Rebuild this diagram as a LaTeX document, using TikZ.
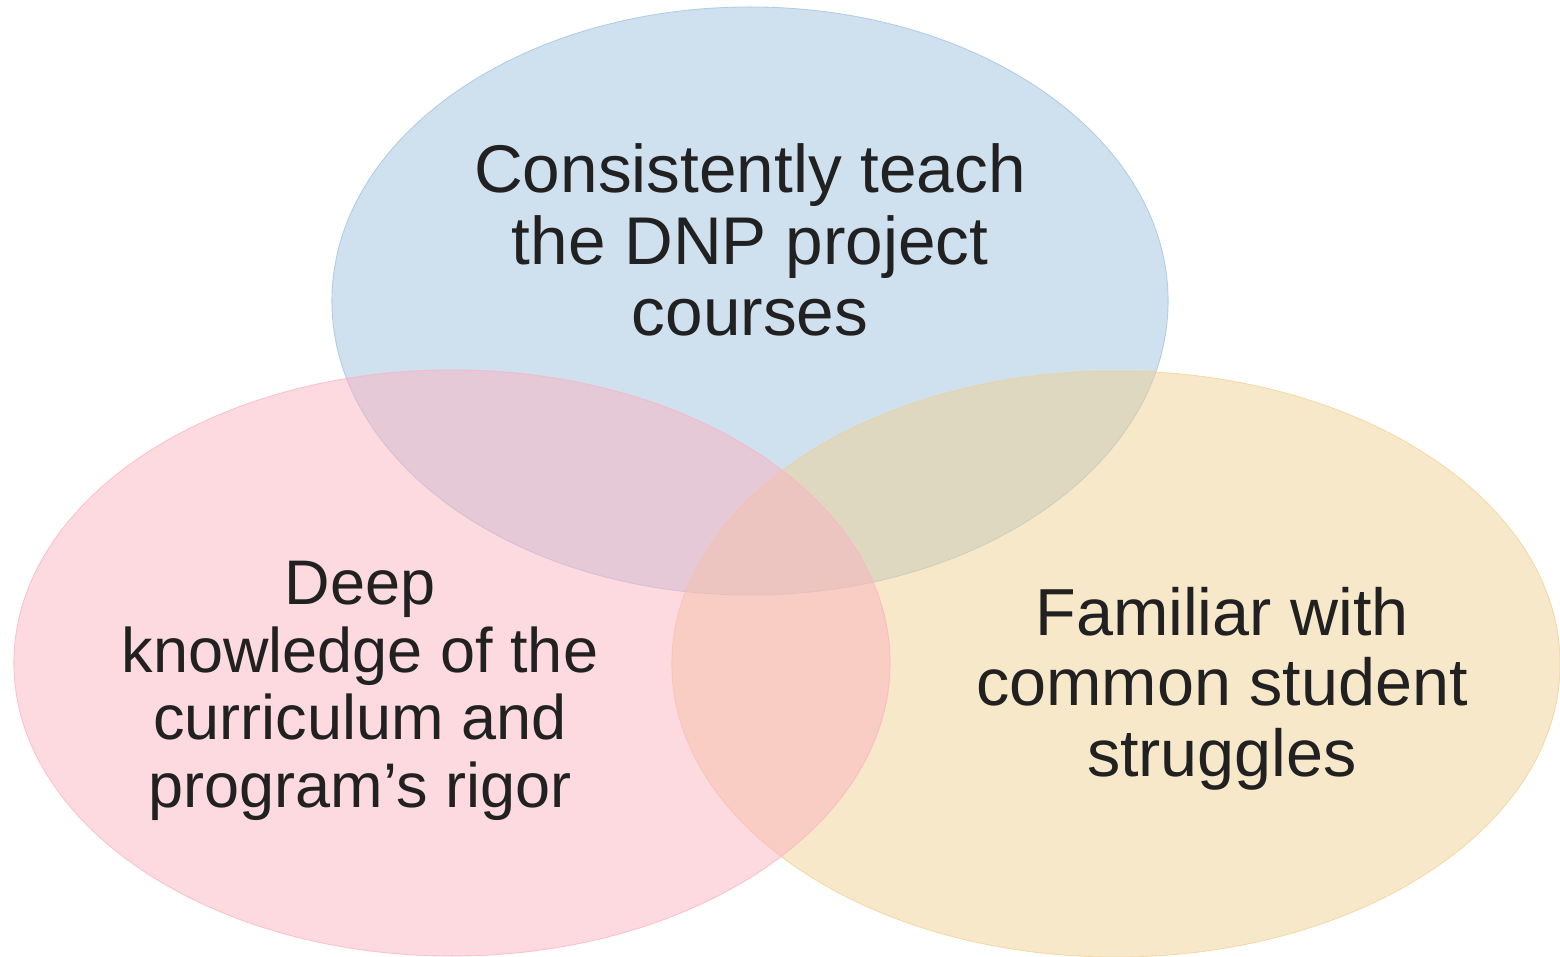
\documentclass[tikz,border=0pt]{standalone}
\usepackage{fontspec}
\setmainfont{Liberation Sans}
\definecolor{setblue}{RGB}{159,193,221}
\definecolor{setpink}{RGB}{251,179,193}
\definecolor{setyellow}{RGB}{239,209,147}
\begin{document}
\begin{tikzpicture}
[x=0.025cm,y=-0.025cm,
  setdecorate/.style={fill opacity=0.5,draw opacity=0.75,line width=0.6pt},
  labeldecorate/.style={align=center,anchor=base,inner sep=0pt,text=black!87}]
\useasboundingbox (0,0) rectangle (1560,957);
%% the three sets (pink goes on top)
\foreach \setcolor/\x/\y/\rx/\ry in {setblue/750/301/10.45cm/7.35cm,
  setyellow/1116/664/11.1cm/7.325cm, setpink/452/663/10.95cm/7.325cm} {
  \path[setdecorate,fill=\setcolor,draw=\setcolor] (\x,\y)
    ellipse [x radius=\rx, y radius=\ry];
}
%% labels (base is the last line)
\node (teach) at (750,336) [labeldecorate,font=\fontsize{48}{51}\selectfont]
  {Consistently teach\\the DNP project\\courses};
\node (knowledge) at (360,807) [labeldecorate,font=\fontsize{44.8}{48}\selectfont]
  {Deep\\knowledge of the\\curriculum and\\program’s rigor};
\node (struggles) at (1222,776) [labeldecorate,font=\fontsize{47.3}{49.8}\selectfont]
  {Familiar with\\common student\\struggles};
\end{tikzpicture}
\end{document}
